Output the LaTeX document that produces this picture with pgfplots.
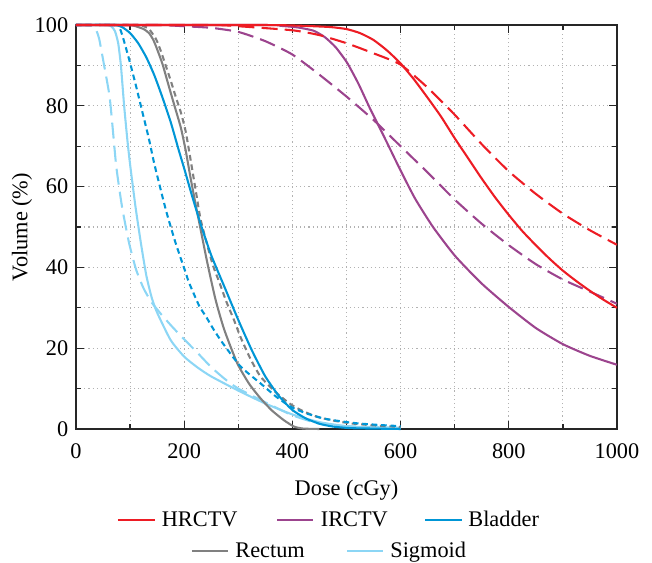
\documentclass[border=0pt,11pt]{standalone}
\usepackage{fontspec}
\setmainfont[Scale=1.08]{Liberation Serif}
\usepackage{pgfplots}
\pgfplotsset{compat=1.18}
\definecolor{hrctv}{RGB}{237,28,36}
\definecolor{irctv}{RGB}{156,68,142}
\definecolor{bladder}{RGB}{0,150,214}
\definecolor{rectum}{RGB}{128,128,128}
\definecolor{sigmoid}{RGB}{140,214,245}

\begin{document}
\begin{tikzpicture}
\useasboundingbox ({-76*0.53pt},{-134*0.53pt}) rectangle ({576*0.53pt},{429*0.53pt});
\begin{axis}[
    scale only axis,
    width=286.7pt, height=214.1pt,
    xmin=0, xmax=1000, ymin=0, ymax=100,
    xtick={0,200,...,1000}, minor xtick={100,300,...,900},
    ytick={0,20,...,100}, minor ytick={10,30,...,90},
    grid=both,
    major grid style={gray!60, line width=0.6pt, dash pattern=on 0.6pt off 1.6pt},
    minor grid style={gray!60, line width=0.6pt, dash pattern=on 0.6pt off 1.6pt},
    tick align=inside,
    major tick length=4.3pt, minor tick length=2.6pt,
    every tick/.style={black!85, line width=0.7pt},
    axis line style={black!85, line width=0.7pt},
    xlabel={Dose (cGy)}, ylabel={Volume (\%)},
    xlabel style={at={(axis description cs:0.5,-0.151)}, anchor=center},
    ylabel style={at={(axis description cs:-0.0998,0.5)}, anchor=center},
    xticklabel style={yshift=-3.5pt},
    /pgf/number format/assume math mode=true,
    /pgf/number format/1000 sep={},
    clip=false,
    every axis plot/.append style={line width=1.1pt, line join=round, smooth, tension=0.35},
]
% Sigmoid
\addplot[sigmoid] coordinates {
 (0,100) (55,100) (65,99.7) (72,98.5) (78,95.5) (83,90) (89,80) (95,71.5) (100,65.5)
 (110,55) (120,46) (130,38) (140,32.5) (150,28.8) (175,22) (200,17.9) (225,15.2)
 (250,13) (300,9.5) (350,6.3) (400,3.6) (450,1.7) (500,0.7) (550,0.35) (600,0.2)
};
\addplot[sigmoid, dash pattern=on 8.5pt off 3.8pt] coordinates {
 (0,100) (25,100) (32,99.5) (38,98.5) (43,96.5) (52,90) (62,82.4) (68,74.2) (74,65.5)
 (80,59.5) (86,54.3) (98,46.1) (111,39.5) (125,34.8) (140,31.3) (160,28) (180,25)
 (200,22.2) (225,18.8) (250,15.3) (275,12.4) (300,10) (350,6.6) (400,3.4) (450,1.3)
 (500,0.7) (600,0.3)
};
% Rectum
\addplot[rectum] coordinates {
 (0,100) (95,100) (110,99.7) (125,99) (135,98) (143,96.3) (150,94) (160,90.3)
 (170,85.6) (181,80.5) (194,74.5) (203,68.8) (212,62) (222,55) (231,49) (243,41)
 (258,32) (274,24.6) (298,16.3) (320,11.2) (341,7.6) (362,4.6) (384,2.2) (403,0.6)
 (420,0.1) (450,0)
};
\addplot[rectum, dash pattern=on 3pt off 2pt] coordinates {
 (0,100) (115,100) (123,99.8) (135,99) (148,96.5) (157,93.5) (166,89.9) (175,86.3)
 (184,82.4) (194,78.3) (203,73.5) (212,66.5) (222,58.5) (231,51.5) (252,41) (265,36.3)
 (278,31.5) (292,27) (304,22.8) (322,17.5) (341,13) (370,9) (397,6.1) (420,4.4) (446,3)
 (475,2.1) (507,1.4) (550,0.9) (600,0.5)
};
% Bladder
\addplot[bladder] coordinates {
 (0,100) (70,100) (85,99.5) (100,98) (115,95.5) (130,92) (145,87.5) (160,82) (175,76)
 (190,69) (200,64.5) (215,57.5) (231,50.5) (250,43) (275,35) (300,27) (325,19.5)
 (350,13) (375,8.2) (400,4.7) (425,2.6) (450,1.3) (475,0.6) (510,0.2) (600,0)
};
\addplot[bladder, dash pattern=on 3pt off 2pt] coordinates {
 (0,100) (75,100) (80,99.5) (86,97.3) (98,91.6) (111,84.9) (123,78.3) (135,71.7)
 (145,65.5) (166,54.3) (184,46.1) (203,38.6) (209,36.2) (228,30.4) (240,27.9)
 (255,24.5) (271,21.3) (304,15.5) (341,11.3) (370,8) (397,5.5) (425,3.9) (458,2.6)
 (490,1.9) (520,1.4) (560,1) (600,0.7)
};
% IRCTV
\addplot[irctv] coordinates {
 (0,100) (350,100) (378,99.8) (410,99.4) (439,98.6) (460,97) (480,94.5) (501,90.7)
 (522,85.5) (544,79.2) (569,72.5) (600,64) (627,57) (660,50) (701,42.8) (750,36)
 (800,30.2) (850,25) (900,21) (950,18.1) (1000,15.9)
};
\addplot[irctv, dash pattern=on 8.5pt off 3.8pt] coordinates {
 (0,100) (150,100) (200,99.7) (250,99.3) (300,98.3) (350,96) (400,92.7) (450,87.7)
 (500,82.3) (550,76.5) (600,70) (650,63.5) (700,56.8) (750,50.8) (800,45.5)
 (850,40.8) (900,37) (950,34) (1000,31)
};
% HRCTV
\addplot[hrctv, dash pattern=on 8.5pt off 3.8pt] coordinates {
 (0,100) (250,100) (300,99.7) (400,98.7) (450,97.5) (500,95.5) (550,93) (600,90.2)
 (650,84.5) (700,77.8) (750,70.5) (800,63.8) (850,58.2) (900,53.3) (950,49.2)
 (1000,45.6)
};
\addplot[hrctv] coordinates {
 (0,100) (350,100) (420,99.8) (470,99.5) (500,99) (525,98) (550,96.3) (575,93.7)
 (600,90.5) (625,86.5) (650,82) (675,77.3) (700,72) (725,67) (750,62) (775,57.3)
 (800,53) (825,49) (850,45.5) (875,42.2) (900,39.2) (925,36.6) (950,34.2) (975,32)
 (1000,30)
};
\end{axis}
% legend
\begin{scope}[x=0.53pt, y=-0.53pt, shift={({-76*0.53pt},{429*0.53pt})}]
\draw[hrctv, line width=1.1pt] (118,520) -- (155,520);
\node[anchor=base west, inner sep=0] at (161.5,526.5) {HRCTV};
\draw[irctv, line width=1.1pt] (277,520) -- (313,520);
\node[anchor=base west, inner sep=0] at (320.5,526.5) {IRCTV};
\draw[bladder, line width=1.1pt] (425,520) -- (462,520);
\node[anchor=base west, inner sep=0] at (468,526.5) {Bladder};
\draw[rectum, line width=1.1pt] (192,551) -- (228,551);
\node[anchor=base west, inner sep=0] at (235,557.5) {Rectum};
\draw[sigmoid, line width=1.1pt] (347,551) -- (383,551);
\node[anchor=base west, inner sep=0] at (390,557.5) {Sigmoid};
\end{scope}
\end{tikzpicture}
\end{document}
